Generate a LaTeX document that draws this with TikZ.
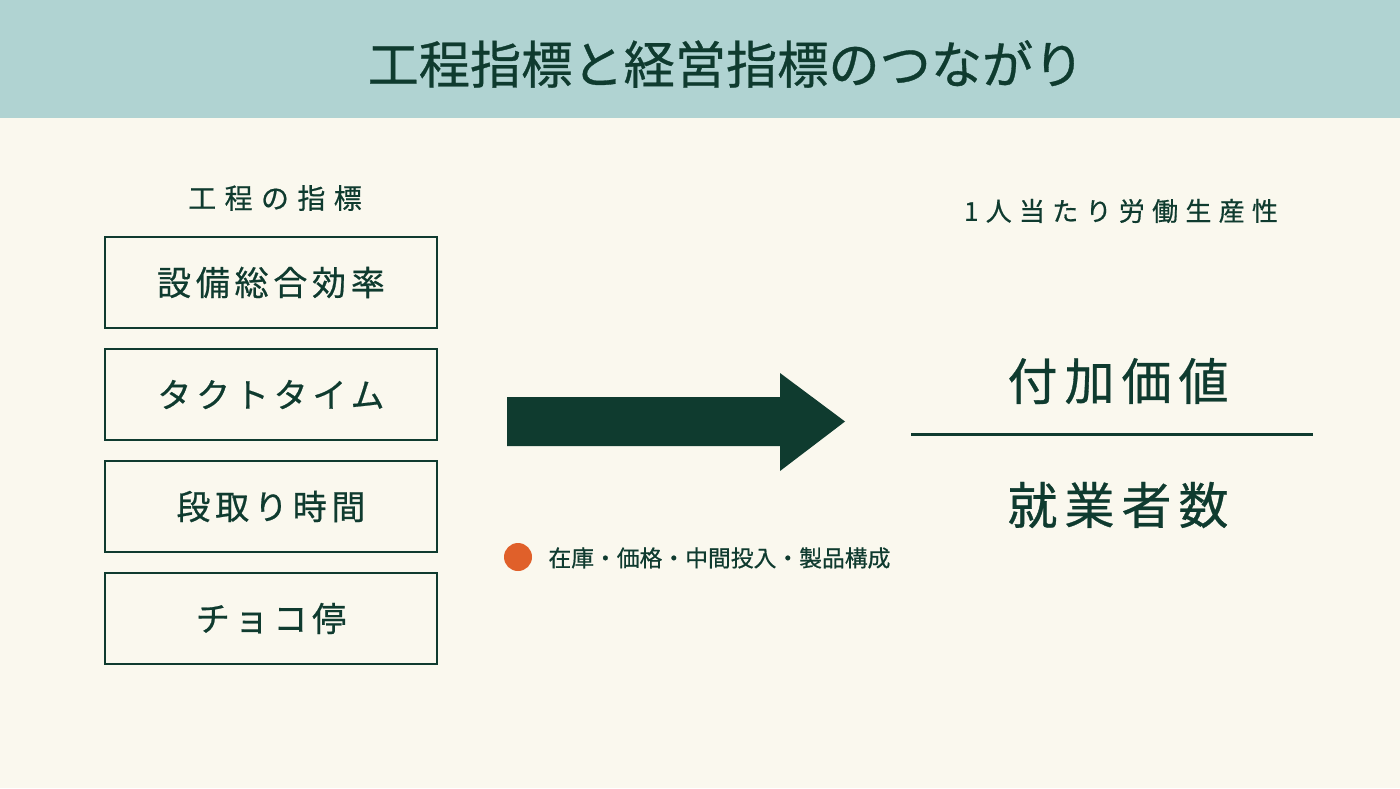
\documentclass[tikz,border=0pt]{standalone}
\usepackage{fontspec}
\newfontfamily\jp[FakeBold=0.6]{Noto Sans CJK JP}
\definecolor{bg}{HTML}{FAF8EE}
\definecolor{band}{HTML}{B0D3D2}
\definecolor{ink}{HTML}{0F3B2F}
\definecolor{dot}{HTML}{E0602A}
\tikzset{
  itembox/.style={draw=ink, line width=1pt, minimum width=166pt, minimum height=45.5pt, inner sep=0pt,
    text=ink, font=\jp\fontsize{17}{20}\selectfont\addfontfeature{LetterSpace=14}},
  lbl/.style={text=ink, inner sep=0pt},
}
\begin{document}
\begin{tikzpicture}[x=0.5pt,y=-0.5pt]
\useasboundingbox (0,0) rectangle (1400,788);
\fill[bg] (0,0) rectangle (1400,788);
\fill[band] (0,0) rectangle (1400,118);
\node[lbl, font=\jp\fontsize{25.6}{30}\selectfont] (title) at (726,64) {工程指標と経営指標のつながり};
\node[lbl, font=\jp\fontsize{14}{16}\selectfont\addfontfeature{LetterSpace=30}] (lefthead) at (275,198) {工程の指標};
\node[itembox] (b1) at (271,282.5) {設備総合効率};
\node[itembox] (b2) at (271,394.5) {タクトタイム};
\node[itembox] (b3) at (271,506.5) {段取り時間};
\node[itembox] (b4) at (271,618.5) {チョコ停};
\fill[ink] (507,397) -- (780,397) -- (780,373) -- (845,421.5) -- (780,471) -- (780,446) -- (507,446) -- cycle;
\node[circle, fill=dot, minimum size=14pt, inner sep=0pt] (d) at (518,557) {};
\node[lbl, anchor=west, font=\jp\fontsize{11.4}{13}\selectfont] (note) at (548,558) {在庫・価格・中間投入・製品構成};
\node[lbl, font=\jp\fontsize{13}{15}\selectfont\addfontfeature{LetterSpace=28}] (righthead) at (1121,211) {1人当たり労働生産性};
\node[lbl, font=\jp\fontsize{25}{28}\selectfont\addfontfeature{LetterSpace=14}] (num) at (1118,381) {付加価値};
\coordinate (fl) at (911,434);
\coordinate (fr) at (1313,434);
\draw[ink, line width=1.5pt] (fl) -- (fr);
\node[lbl, font=\jp\fontsize{25}{28}\selectfont\addfontfeature{LetterSpace=14}] (den) at (1118,505) {就業者数};
\end{tikzpicture}
\end{document}
